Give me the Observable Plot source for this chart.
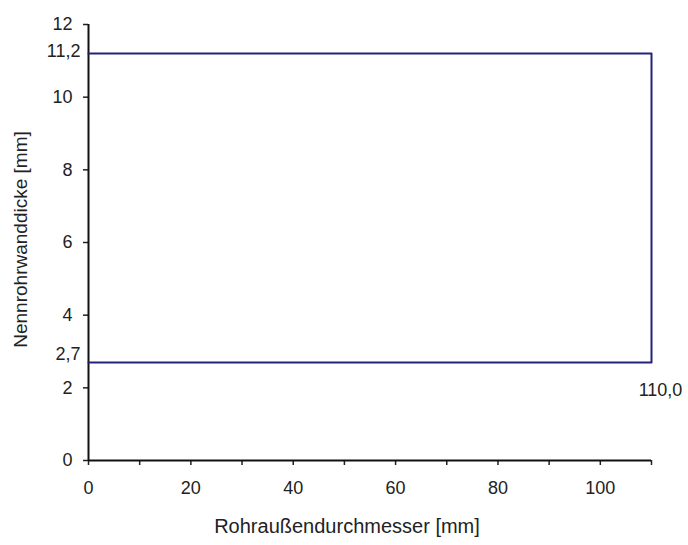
<!DOCTYPE html>
<html>
<head>
<meta charset="utf-8">
<script src="https://cdn.jsdelivr.net/npm/d3@7"></script>
<script src="https://cdn.jsdelivr.net/npm/@observablehq/plot@0.6"></script>
<style>
  body { margin: 0; background: #fff; }
  #chart svg { display: block; }
</style>
</head>
<body>
<div id="chart"></div>
<script>
// Outline of the valid range (pipe outer diameter vs. nominal wall thickness)
const outlineX = [0, 110, 110, 0];
const outlineY = [11.2, 11.2, 2.7, 2.7];

// Axis ticks
const xTicks = [0, 10, 20, 30, 40, 50, 60, 70, 80, 90, 100, 110];
const xLabelled = [0, 20, 40, 60, 80, 100];
const yTicks = [0, 2, 4, 6, 8, 10, 12];

// Annotations
const yAnnotValues = [11.2, 2.7];
const yAnnotLabels = ["11,2", "2,7"];
const xAnnotValues = [110];
const xAnnotLabels = ["110,0"];

const xTitle = "Rohraußendurchmesser [mm]";
const yTitle = "Nennrohrwanddicke [mm]";

const outline = outlineX.map((x, i) => ({x, y: outlineY[i]}));
const yAnnot = yAnnotValues.map((v, i) => ({v, label: yAnnotLabels[i]}));
const xAnnot = xAnnotValues.map((v, i) => ({v, label: xAnnotLabels[i]}));

const chart = Plot.plot({
  width: 688,
  height: 545,
  marginLeft: 88,
  marginRight: 37,
  marginTop: 24,
  marginBottom: 85,
  style: {fontFamily: "'Liberation Sans', Arial, sans-serif", fontSize: "18px", color: "#222", background: "#fff"},
  x: {domain: [0, 110]},
  y: {domain: [0, 12]},
  marks: [
    Plot.axisX({ticks: xTicks, tickSize: 5, tickPadding: 16, strokeWidth: 1.5,
      tickFormat: d => xLabelled.includes(d) ? String(d) : "", label: null, fontSize: 18}),
    Plot.axisY({ticks: yTicks, tickSize: 5, tickPadding: 11, strokeWidth: 1.5,
      tickFormat: d => String(d), label: null, fontSize: 18}),
    Plot.ruleY([0], {x1: 0, x2: 110, stroke: "#111", strokeWidth: 2}),
    Plot.ruleX([0], {y1: 0, y2: 12, stroke: "#111", strokeWidth: 2}),
    Plot.line(outline, {x: "x", y: "y", stroke: "#22227a", strokeWidth: 2}),
    Plot.text(yAnnot.slice(0, 1), {x: 0, y: "v", text: "label", textAnchor: "end", dx: -8, dy: -2,
      fontSize: 18, fill: "#222"}),
    Plot.text(yAnnot.slice(1), {x: 0, y: "v", text: "label", textAnchor: "end", dx: -8, dy: -8,
      fontSize: 18, fill: "#222"}),
    Plot.text(xAnnot, {x: "v", y: 2.7, text: "label", dy: 28, dx: 9, fontSize: 18, fill: "#222"}),
    Plot.text([xTitle], {frameAnchor: "bottom", dy: 72, dx: -23, fontSize: 20, fill: "#222"}),
    Plot.text([yTitle], {frameAnchor: "left", textAnchor: "middle", dx: -68, dy: -3, rotate: -90,
      fontSize: 19, fill: "#222"})
  ]
});
document.getElementById("chart").appendChild(chart);
</script>
</body>
</html>
